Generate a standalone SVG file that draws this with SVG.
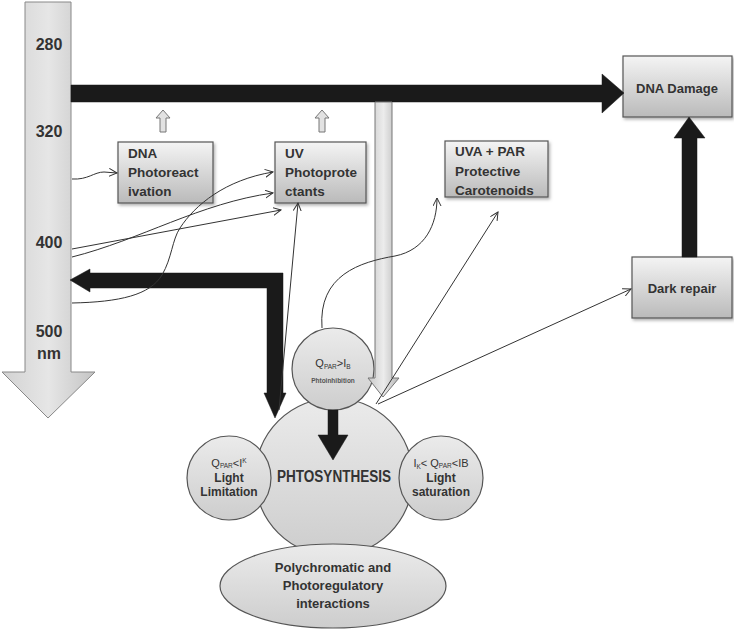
<svg xmlns="http://www.w3.org/2000/svg" width="734" height="632" viewBox="0 0 734 632">
<defs>
<linearGradient id="boxGrad" x1="0" y1="0" x2="0" y2="1">
<stop offset="0" stop-color="#f4f4f4"/><stop offset="1" stop-color="#bababa"/>
</linearGradient>
<linearGradient id="circGrad" x1="0" y1="0" x2="0" y2="1">
<stop offset="0" stop-color="#ebebeb"/><stop offset="1" stop-color="#cdcdcd"/>
</linearGradient>
<linearGradient id="scaleGrad" x1="0" y1="0" x2="1" y2="0">
<stop offset="0" stop-color="#d2d2d2"/><stop offset="0.5" stop-color="#e6e6e6"/><stop offset="1" stop-color="#c4c4c4"/>
</linearGradient>
<linearGradient id="grayArrowGrad" x1="0" y1="0" x2="1" y2="0">
<stop offset="0" stop-color="#c8c8c8"/><stop offset="0.5" stop-color="#ececec"/><stop offset="1" stop-color="#b5b5b5"/>
</linearGradient>
<filter id="shadow" x="-10%" y="-10%" width="125%" height="130%">
<feDropShadow dx="1.5" dy="2" stdDeviation="1.5" flood-color="#000" flood-opacity="0.3"/>
</filter>
<marker id="open" markerWidth="10" markerHeight="10" refX="8" refY="4" orient="auto" markerUnits="userSpaceOnUse">
<path d="M0,0 L8,4 L0,8" fill="none" stroke="#333" stroke-width="1"/>
</marker>
</defs>
<style>
.box{fill:url(#boxGrad);stroke:#555;stroke-width:1.2;filter:url(#shadow)}
.circ{fill:url(#circGrad);stroke:#555;stroke-width:1.2}
.t{font-family:"Liberation Sans",Arial,sans-serif;font-weight:bold;fill:#333}
.n{font-family:"Liberation Sans",Arial,sans-serif;font-weight:normal;fill:#333}
.small{font-family:"Liberation Sans",Arial,sans-serif;font-weight:bold;fill:#555}
.thin{fill:none;stroke:#333;stroke-width:1;marker-end:url(#open)}
.black{fill:#1a1a1a;stroke:#1a1a1a;stroke-width:0.5}
.hollow{fill:#e2e2e2;stroke:#777;stroke-width:1}
</style>

<g id="wavelength-scale">
<polygon points="25,2 71,2 71,372 95,372 48,418 2,372 25,372" fill="url(#scaleGrad)" stroke="#888" stroke-width="1"/>
<text class="t" x="49" y="50" font-size="16" text-anchor="middle">280</text>
<text class="t" x="49" y="137" font-size="16" text-anchor="middle">320</text>
<text class="t" x="49" y="248" font-size="16" text-anchor="middle">400</text>
<text class="t" x="49" y="337" font-size="16" text-anchor="middle">500</text>
<text class="t" x="49" y="359" font-size="16" text-anchor="middle">nm</text>
</g>

<g id="dna-damage">
<rect class="box" x="623" y="56" width="109" height="61"/>
<text class="t" x="677" y="93" font-size="13" text-anchor="middle">DNA Damage</text>
</g>

<g id="dark-repair">
<rect class="box" x="632" y="257" width="100" height="61"/>
<text class="t" x="682" y="293" font-size="13" text-anchor="middle">Dark repair</text>
</g>

<g id="dna-photoreactivation">
<rect class="box" x="118" y="142" width="95" height="61"/>
<text class="t" x="128" y="158" font-size="13.5">DNA</text>
<text class="t" x="128" y="177" font-size="13.5">Photoreact</text>
<text class="t" x="128" y="196" font-size="13.5">ivation</text>
</g>

<g id="uv-photoprotectants">
<rect class="box" x="275" y="142" width="91" height="61"/>
<text class="t" x="285" y="158" font-size="13.5">UV</text>
<text class="t" x="285" y="177" font-size="13.5">Photoprote</text>
<text class="t" x="285" y="196" font-size="13.5">ctants</text>
</g>

<g id="uva-par-carotenoids">
<rect class="box" x="445" y="141" width="103" height="56"/>
<text class="t" x="455" y="156" font-size="13.5">UVA + PAR</text>
<text class="t" x="455" y="176" font-size="13.5">Protective</text>
<text class="t" x="455" y="195" font-size="13.5">Carotenoids</text>
</g>

<g id="photosynthesis">
<circle class="circ" cx="334" cy="477" r="79"/>
<text class="t" x="334" y="482" font-size="16" text-anchor="middle" textLength="114" lengthAdjust="spacingAndGlyphs">PHTOSYNTHESIS</text>
</g>

<g id="photoinhibition">
<circle class="circ" cx="333" cy="369" r="41"/>
<text class="n" x="333" y="367" font-size="11" text-anchor="middle">Q<tspan font-size="6.5" dy="2">PAR</tspan><tspan dy="-2">&gt;I</tspan><tspan font-size="6.5" dy="2">B</tspan></text>
<text class="small" x="333" y="383" font-size="6.5" text-anchor="middle">Phtoinhibition</text>
</g>

<g id="light-limitation">
<circle class="circ" cx="229" cy="478" r="42"/>
<text class="n" x="229" y="467" font-size="11" text-anchor="middle">Q<tspan font-size="6.5" dy="1">PAR</tspan><tspan dy="-1">&lt;I</tspan><tspan font-size="6.5" dy="-4">K</tspan></text>
<text class="t" x="229" y="482" font-size="12" text-anchor="middle">Light</text>
<text class="t" x="229" y="496" font-size="12" text-anchor="middle">Limitation</text>
</g>

<g id="light-saturation">
<circle class="circ" cx="441" cy="478" r="42"/>
<text class="n" x="441" y="467" font-size="11" text-anchor="middle">I<tspan font-size="6.5" dy="2">K</tspan><tspan dy="-2">&lt; Q</tspan><tspan font-size="6.5" dy="1">PAR</tspan><tspan dy="-1">&lt;IB</tspan></text>
<text class="t" x="441" y="482" font-size="12" text-anchor="middle">Light</text>
<text class="t" x="441" y="496" font-size="12" text-anchor="middle">saturation</text>
</g>

<g id="polychromatic">
<ellipse class="circ" cx="333" cy="586" rx="113" ry="42"/>
<text class="t" x="333" y="572" font-size="13" text-anchor="middle">Polychromatic and</text>
<text class="t" x="333" y="590" font-size="13" text-anchor="middle">Photoregulatory</text>
<text class="t" x="333" y="608" font-size="13" text-anchor="middle">interactions</text>
</g>

<g id="connectors">
<polygon class="black" points="71,85 602,85 602,74 624,93 602,113 602,102 71,102"/>
<polygon class="black" points="682,257 682,138 674,138 689,117 705,138 697,138 697,257"/>
<polygon class="hollow" points="163,110 170,118 166,118 166,132 160,132 160,118 156,118"/>
<polygon class="hollow" points="322,110 329,118 325,118 325,132 319,132 319,118 315,118"/>
<polygon points="375,102 392,102 392,378 399,378 383,397 368,378 375,378" fill="url(#grayArrowGrad)" stroke="#777" stroke-width="1"/>
<polygon class="black" points="70,280 90,269 90,273 283,273 283,393 286,393 275,418 264,393 267,393 267,288 90,288 90,292"/>
<polygon class="black" points="328,410 338,410 338,435 348,435 333,460 318,435 328,435"/>
<path class="thin" d="M72,179 C88,180 94,172 104,172 L117,173"/>
<path class="thin" d="M72,249 L281,210"/>
<path class="thin" d="M72,257 C140,240 200,203 273,193"/>
<path class="thin" d="M72,303 C120,302 150,295 162,275 C172,258 172,240 180,228 C195,205 225,180 273,172"/>
<path class="thin" d="M279,410 L298,203"/>
<path class="thin" d="M322,328 C318,275 360,262 395,256 C425,250 437,225 437,198"/>
<path class="thin" d="M376,404 L498,212"/>
<path class="thin" d="M378,404 L631,289"/>
</g>
</svg>
